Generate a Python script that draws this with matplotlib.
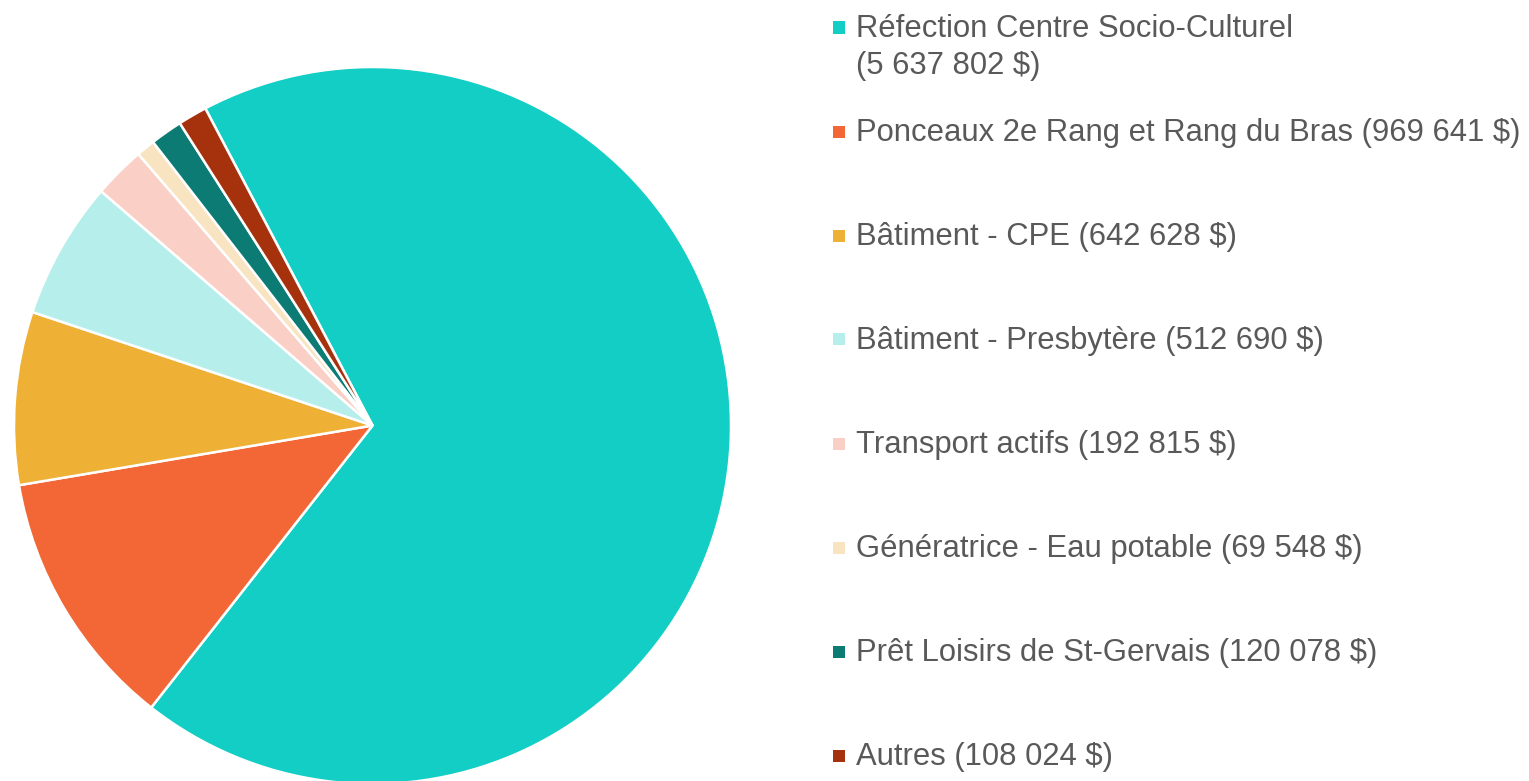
import matplotlib
matplotlib.use("agg")
import matplotlib.pyplot as plt
from matplotlib.patches import Rectangle

# --- Données ---
labels = [
    "Réfection Centre Socio-Culturel\n(5 637 802 $)",
    "Ponceaux 2e Rang et Rang du Bras (969 641 $)",
    "Bâtiment - CPE (642 628 $)",
    "Bâtiment - Presbytère (512 690 $)",
    "Transport actifs (192 815 $)",
    "Génératrice - Eau potable (69 548 $)",
    "Prêt Loisirs de St-Gervais (120 078 $)",
    "Autres (108 024 $)",
]
values = [5637802, 969641, 642628, 512690, 192815, 69548, 120078, 108024]
colors = ["#13CEC4", "#F26735", "#EEB035", "#B5EEEB",
          "#FACFC5", "#F9E4C1", "#0C7B73", "#A6310D"]

W, H = 1529, 781
fig = plt.figure(figsize=(W / 100, H / 100), dpi=100)

# disque : centre (372, 425), rayon 358 px
cx, cy, r = 372.5, 425.5, 358.5
ax = fig.add_axes([(cx - r) / W, (H - cy - r) / H, 2 * r / W, 2 * r / H])
ax.pie(values, colors=colors, startangle=117.8, counterclock=False,
       wedgeprops=dict(edgecolor="white", linewidth=1.8))
ax.set_xlim(-1, 1)
ax.set_ylim(-1, 1)
ax.set_aspect("auto")
ax.axis("off")

# légende manuelle (lignes de base en px depuis le haut)
base0, step, lead = 37, 104, 36.7
for i, (lab, col) in enumerate(zip(labels, colors)):
    b = base0 + i * step
    fig.patches.append(Rectangle((833 / W, 1 - (b - 3.5) / H), 12 / W, 12 / H,
                                 transform=fig.transFigure, facecolor=col,
                                 edgecolor="none"))
    for j, line in enumerate(lab.split("\n")):
        fig.text(856 / W, 1 - (b + j * lead) / H, line, ha="left",
                 va="baseline", fontsize=22.3, color="#595959",
                 family="Liberation Sans")

fig.savefig("out.png", dpi=100)
